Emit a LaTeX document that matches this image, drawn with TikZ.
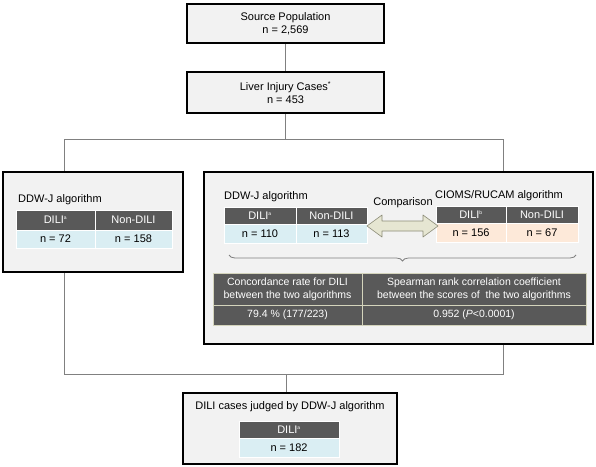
\documentclass[tikz,border=0pt]{standalone}
\usepackage{fontspec}
\setmainfont{Liberation Sans}
\usetikzlibrary{positioning,decorations.pathreplacing}
\definecolor{boxfill}{HTML}{F2F2F2}
\definecolor{cellgray}{HTML}{595959}
\definecolor{cellblue}{HTML}{DAEEF3}
\definecolor{cellorange}{HTML}{FDE9D9}
\definecolor{linegray}{HTML}{808080}
\definecolor{tabline}{HTML}{D4D4BC}
\definecolor{arrowfill}{HTML}{E6E6D2}
\definecolor{arrowline}{HTML}{8C8C78}
\begin{document}
\begin{tikzpicture}[x=1pt,y=-1pt,
    every node/.append style={font=\fontsize{11}{13.5}\selectfont},
    box/.style={draw=black, line width=1.5pt, fill=boxfill, align=center, inner sep=0pt},
    conn/.style={draw=linegray, line width=0.9pt},
    cell/.style={draw=white, line width=0.6pt, inner sep=0pt, outer sep=0pt},
    hd/.style={cell, fill=cellgray, text=white},
    blu/.style={cell, fill=cellblue},
    org/.style={cell, fill=cellorange},
    dk/.style={draw=tabline, line width=0.8pt, fill=cellgray, text=white, align=center,
        inner sep=0pt, outer sep=0pt, font=\fontsize{10.5}{13}\selectfont}]
    \useasboundingbox (0,0) rectangle (596,466);

    %top boxes
    \node[box, minimum width=197, minimum height=39] (src) at (285.5,23.5)
        {Source Population\\n = 2,569};
    \node[box, minimum width=197, minimum height=41] (liver) at (285.5,92.5)
        {Liver Injury Cases\textsuperscript{\scriptsize *}\\n = 453};

    %the two branches
    \node[box, minimum width=180, minimum height=100] (ddwj) at (93,222) {};
    \node[box, minimum width=389, minimum height=172] (comp) at (398.5,258) {};
    \node[box, minimum width=214, minimum height=71] (judged) at (290,428.5) {};

    \coordinate (lb) at (64,139);
    \coordinate (rb) at (503,139);
    \coordinate (merge) at (286,374);

    \draw[conn] (src) -- (liver);
    \draw[conn] (liver.south) |- (lb) -- (lb |- ddwj.north);
    \draw[conn] (liver.south) |- (rb) -- (rb |- comp.north);
    \draw[conn] (lb |- ddwj.south) |- (merge);
    \draw[conn] (rb |- comp.south) |- (merge);
    \draw[conn] (merge) -- (merge |- judged.north);

    %left box
    \node[anchor=west, inner sep=0pt] (l-title) at (18,200) {DDW-J algorithm};
    \node[hd, minimum width=79, minimum height=20] (l-d) at (55.5,220) {DILI\textsuperscript{\tiny a}};
    \node[hd, minimum width=77, minimum height=20, right=0pt of l-d] (l-nd) {Non-DILI};
    \node[blu, minimum width=79, minimum height=18, below=0pt of l-d] (l-n1) {n = 72};
    \node[blu, minimum width=77, minimum height=18, below=0pt of l-nd] (l-n2) {n = 158};

    %right box, DDW-J
    \node[anchor=west, inner sep=0pt] (r-title) at (224,197) {DDW-J algorithm};
    \node[hd, minimum width=72, minimum height=17] (r-d) at (260,215.5) {DILI\textsuperscript{\tiny a}};
    \node[hd, minimum width=71, minimum height=17, right=0pt of r-d] (r-nd) {Non-DILI};
    \node[blu, minimum width=72, minimum height=19, below=0pt of r-d] (r-n1) {n = 110};
    \node[blu, minimum width=71, minimum height=19, below=0pt of r-nd] (r-n2) {n = 113};

    %right box, CIOMS/RUCAM
    \node[inner sep=0pt] (c-title) at (499,196) {CIOMS/RUCAM algorithm};
    \node[hd, minimum width=70, minimum height=17] (c-d) at (471,215) {DILI\textsuperscript{\tiny b}};
    \node[hd, minimum width=72, minimum height=17, right=0pt of c-d] (c-nd) {Non-DILI};
    \node[org, minimum width=70, minimum height=19, below=0pt of c-d] (c-n1) {n = 156};
    \node[org, minimum width=72, minimum height=19, below=0pt of c-nd] (c-n2) {n = 67};

    %comparison
    \node[inner sep=0pt] (cmp-label) at (403,203) {Comparison};
    \draw[draw=arrowline, fill=arrowfill, line width=0.6pt, line join=round]
        (367,226) -- (382,215) -- (382,221) -- (423,221) -- (423,215) -- (438,226)
        -- (423,237) -- (423,231) -- (382,231) -- (382,237) -- cycle;

    \draw[decorate, decoration={brace, mirror, amplitude=6pt}, linegray, line width=0.8pt]
        (229,255) -- (576,255);

    %results table
    \node[dk, minimum width=149, minimum height=32] (conc) at (287.5,289)
        {Concordance rate for DILI\\between the two algorithms};
    \node[dk, minimum width=224, minimum height=32, right=0pt of conc] (spear)
        {Spearman rank correlation coefficient\\between the scores of\ \ the two algorithms};
    \node[dk, minimum width=149, minimum height=20, below=0pt of conc] (conc-v)
        {79.4 \% (177/223)};
    \node[dk, minimum width=224, minimum height=20, below=0pt of spear] (spear-v)
        {0.952 (\textit{P}<0.0001)};

    %bottom box
    \node[inner sep=0pt] (j-title) at (290,407) {DILI cases judged by DDW-J algorithm};
    \node[hd, minimum width=100, minimum height=17] (j-d) at (289,429.5) {DILI\textsuperscript{\tiny a}};
    \node[blu, minimum width=100, minimum height=19, below=0pt of j-d] (j-n) {n = 182};
\end{tikzpicture}
\end{document}
